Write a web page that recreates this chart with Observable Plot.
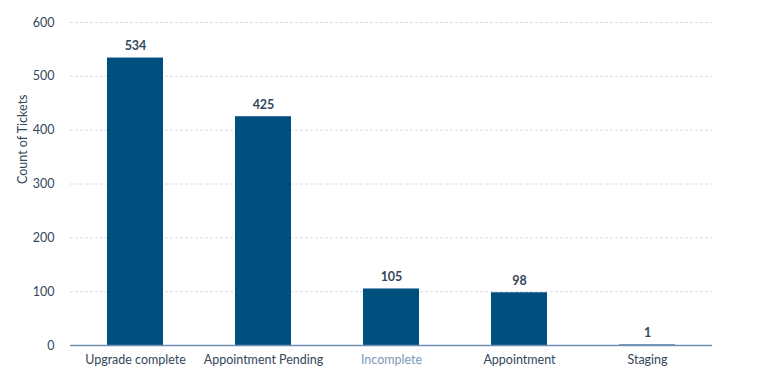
<!DOCTYPE html>
<html>
<head>
<meta charset="utf-8">
<script src="https://cdn.jsdelivr.net/npm/d3@7"></script>
<script src="https://cdn.jsdelivr.net/npm/@observablehq/plot@0.6"></script>
<style>
  body { margin: 0; background: #fff; }
  svg { font-family: Lato, "Open Sans", sans-serif; }
</style>
</head>
<body>
<div id="chart"></div>
<script>
const categories = ["Upgrade complete", "Appointment Pending", "Incomplete", "Appointment", "Staging"];
const counts = [534, 425, 105, 98, 1];
const yTicks = [0, 100, 200, 300, 400, 500, 600];
const yLabel = "Count of Tickets";

const data = categories.map((c, i) => ({category: c, count: counts[i]}));

const chart = Plot.plot({
  width: 757,
  height: 381,
  marginTop: 22,
  marginBottom: 36,
  marginLeft: 70,
  marginRight: 45,
  style: {fontFamily: "Lato, 'Open Sans', sans-serif", fontSize: "12px", color: "#33475b"},
  x: {domain: categories, paddingInner: 0.564, paddingOuter: 0.282, label: null},
  y: {domain: [0, 600], ticks: yTicks, label: null},
  marks: [
    Plot.gridY(yTicks.filter(d => d > 0), {stroke: "#d6dde6", strokeOpacity: 1, strokeDasharray: "3,2"}),
    Plot.barY(data, {x: "category", y: "count", fill: "#00507f"}),
    Plot.ruleY([0], {stroke: "#6f8fb3", strokeWidth: 1.5}),
    Plot.text(data, {x: "category", y: "count", text: d => String(d.count), dy: -12, fontWeight: "bold", fontSize: 12.5, fill: "#33475b"}),
    Plot.axisY({ticks: yTicks, tickSize: 0, tickPadding: 16, fontSize: 12.5, fill: "#33475b", label: null}),
    Plot.axisX({tickSize: 0, tickPadding: 10, fontSize: 12.5, label: null,
      fill: d => d === "Incomplete" ? "#7c98b6" : "#33475b"}),
    Plot.text([yLabel], {frameAnchor: "left", dx: -48, rotate: -90, fontSize: 12.5, fill: "#33475b"})
  ]
});
document.getElementById("chart").appendChild(chart);
</script>
</body>
</html>
